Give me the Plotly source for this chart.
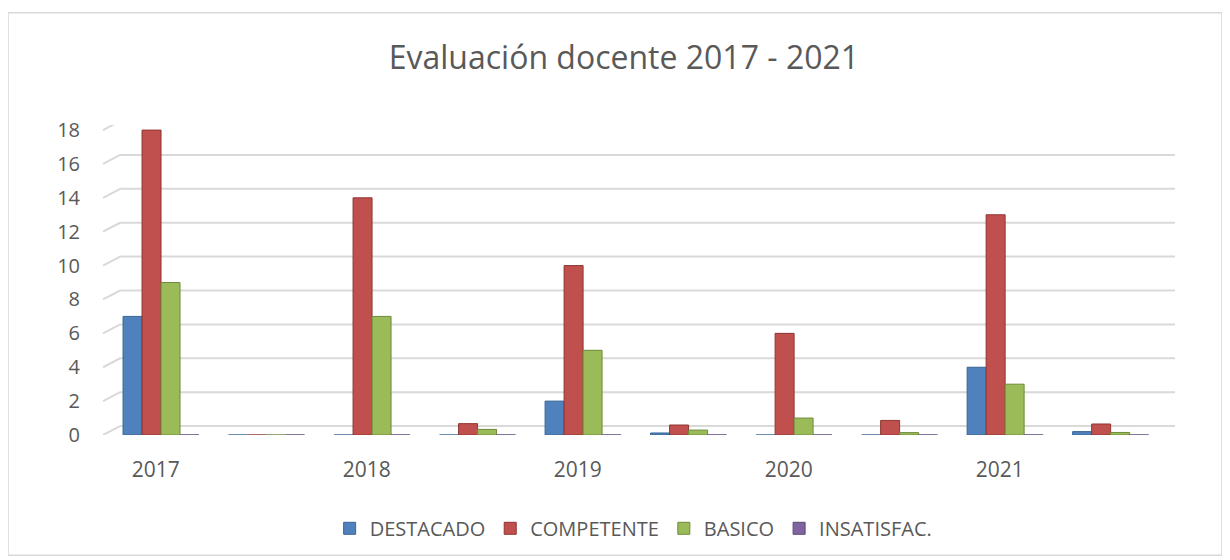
import plotly.graph_objects as go

categories = [0, 1, 2, 3, 4, 5, 6, 7, 8, 9]
tick_positions = [0, 2, 4, 6, 8]
tick_labels = ["2017", "2018", "2019", "2020", "2021"]
y_ticks = [0, 2, 4, 6, 8, 10, 12, 14, 16, 18]

destacado = [7, 0, 0, 0, 2, 0.12, 0, 0, 4, 0.2]
competente = [18, 0, 14, 0.67, 10, 0.59, 6, 0.86, 13, 0.65]
basico = [9, 0, 7, 0.33, 5, 0.29, 1, 0.14, 3, 0.15]
insatisfac = [0, 0, 0, 0, 0, 0, 0, 0, 0, 0]

series = [
    ("DESTACADO", destacado, "#4F81BD", "#3A6496"),
    ("COMPETENTE", competente, "#C0504D", "#8E3532"),
    ("BASICO", basico, "#9BBB59", "#6E8A3A"),
    ("INSATISFAC.", insatisfac, "#8064A2", "#5C477A"),
]

fig = go.Figure()
for name, vals, col, edge in series:
    fig.add_trace(go.Bar(
        x=categories, y=vals, name=name,
        marker=dict(color=col, line=dict(color=edge, width=1)),
    ))

font_fam = "Open Sans, Liberation Sans, sans-serif"
grid_shift = 0.53   # back-wall offset of gridlines (3D look), in axis units
depth_x = 0.016     # back-wall horizontal offset, paper fraction
label_shift = 0.05

grid_shapes = []
for v in y_ticks:
    grid_shapes.append(dict(type="line", xref="paper", yref="y",
                            x0=depth_x, x1=1, y0=v + grid_shift, y1=v + grid_shift,
                            line=dict(color="#D9D9D9", width=2), layer="below"))
    grid_shapes.append(dict(type="line", xref="paper", yref="y",
                            x0=0, x1=depth_x, y0=v, y1=v + grid_shift,
                            line=dict(color="#D9D9D9", width=2), layer="below"))

border = dict(type="rect", xref="paper", yref="paper",
              x0=-0.0886, x1=1.0438, y0=-0.388, y1=1.362,
              line=dict(color="#D9D9D9", width=1.5), fillcolor="rgba(0,0,0,0)",
              layer="below")

fig.update_layout(
    width=1222, height=552,
    paper_bgcolor="white", plot_bgcolor="rgba(0,0,0,0)",
    barmode="group", bargap=0.28, bargroupgap=0,
    margin=dict(l=95, r=55, t=117, b=123),
    title=dict(text="Evaluación docente 2017 - 2021", xref="container", x=0.504,
               xanchor="center", yref="container", y=0.909, yanchor="middle",
               font=dict(family=font_fam, size=32, color="#595959")),
    font=dict(family=font_fam, color="#595959"),
    xaxis=dict(tickmode="array", tickvals=[p - label_shift for p in tick_positions],
               ticktext=tick_labels,
               range=[-0.55, 9.61], showgrid=False, zeroline=False, showline=False,
               ticks="", ticklabelstandoff=20,
               tickfont=dict(size=21, color="#595959")),
    yaxis=dict(range=[0, 18.3], tickmode="array", tickvals=y_ticks,
               showgrid=False, zeroline=False,
               showline=False, ticks="", ticklabelstandoff=22,
               tickfont=dict(size=20, color="#595959")),
    legend=dict(orientation="h", x=0.495, xanchor="center", y=-0.301, yanchor="middle",
                font=dict(size=20, color="#595959"), traceorder="normal",
                itemwidth=30),
    shapes=[border] + grid_shapes,
)

fig.write_html("out.html")
